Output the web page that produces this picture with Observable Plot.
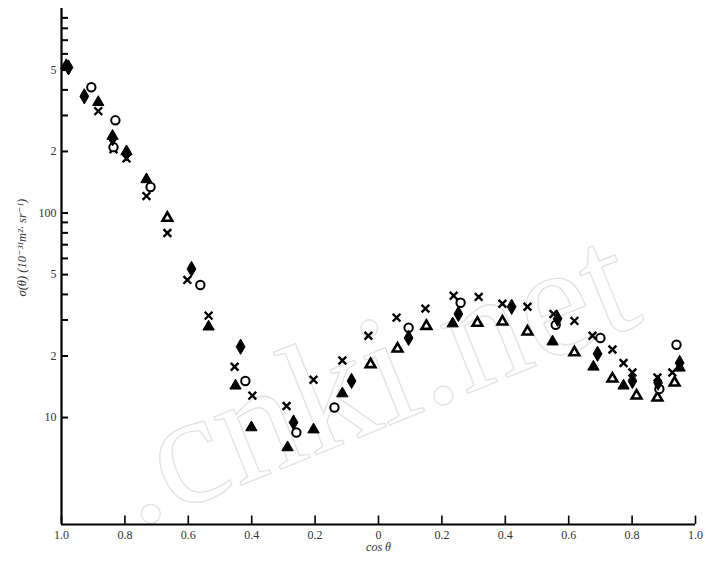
<!DOCTYPE html>
<html>
<head>
<meta charset="utf-8">
<script src="https://cdn.jsdelivr.net/npm/d3@7"></script>
<script src="https://cdn.jsdelivr.net/npm/@observablehq/plot@0.6"></script>
<style>
  html, body { margin: 0; padding: 0; background: white; }
</style>
</head>
<body>
<div id="chart"></div>
<script>
// Axis ticks
const xTicks = [-1, -0.8, -0.6, -0.4, -0.2, 0, 0.2, 0.4, 0.6, 0.8, 1];
const xTickLabels = ["1.0", "0.8", "0.6", "0.4", "0.2", "0", "0.2", "0.4", "0.6", "0.8", "1.0"];
const yMinorTicks = [10, 20, 30, 40, 50, 60, 70, 80, 90, 100, 200, 300, 400, 500, 600, 700, 800, 900];
const yLabelTicks = [10, 20, 50, 100, 200, 500];
const yTickLabels = ["10", "2", "5", "100", "2", "5"];

// Series: filled circles with error bars
const fCos = [-0.978, -0.928, -0.839, -0.795, -0.590, -0.435, -0.268, -0.085, 0.095, 0.252, 0.420, 0.565, 0.691, 0.801, 0.882, 0.950];
const fVal = [515, 372, 232, 196, 53.3, 22.2, 9.46, 15.1, 24.5, 32.1, 34.8, 30.4, 20.5, 15.1, 14.8, 18.5];
const fErr = [36, 26, 16, 14, 3.7, 1.6, 0.7, 1.1, 1.7, 2.3, 2.5, 2.1, 1.4, 1.1, 1.0, 1.3];
// open circles
const oCos = [-0.906, -0.830, -0.836, -0.719, -0.562, -0.420, -0.259, -0.139, 0.095, 0.259, 0.559, 0.700, 0.886, 0.940];
const oVal = [412, 284, 210, 134, 44.5, 15.1, 8.45, 11.2, 27.5, 36.4, 28.4, 24.5, 13.8, 22.7];
// filled triangles
const tCos = [-0.985, -0.884, -0.839, -0.795, -0.732, -0.536, -0.451, -0.401, -0.287, -0.205, -0.114, 0.234, 0.549, 0.678, 0.773, 0.950];
const tVal = [527, 348, 238, 200, 146, 27.8, 14.3, 8.94, 7.14, 8.73, 13.1, 28.8, 23.5, 17.7, 14.3, 17.5];
// open triangles
const uCos = [-0.666, -0.025, 0.060, 0.151, 0.312, 0.391, 0.470, 0.618, 0.738, 0.814, 0.880, 0.934];
const uVal = [94.6, 18.2, 21.7, 28.0, 29.0, 29.4, 26.3, 20.8, 15.5, 12.8, 12.5, 14.8];
// crosses
const xCos = [-0.884, -0.836, -0.795, -0.732, -0.666, -0.603, -0.536, -0.454, -0.398, -0.290, -0.205, -0.114, -0.032, 0.057, 0.148, 0.237, 0.316, 0.391, 0.470, 0.552, 0.618, 0.675, 0.738, 0.773, 0.801, 0.880, 0.927];
const xVal = [315, 205, 185, 121, 79.8, 47.1, 31.5, 17.7, 12.8, 11.4, 15.3, 19.0, 25.1, 30.8, 34.1, 39.4, 38.9, 36.0, 34.8, 32.1, 29.7, 25.1, 21.5, 18.5, 16.6, 15.7, 16.6];

const yTitle = "σ(θ) (10⁻³¹m²· sr⁻¹)";
const xTitle = "cos θ";
const watermark = ".cnki.net";

const fData = fCos.map((c, i) => ({c, v: fVal[i], e: fErr[i]}));
const oData = oCos.map((c, i) => ({c, v: oVal[i]}));
const tData = tCos.map((c, i) => ({c, v: tVal[i]}));
const uData = uCos.map((c, i) => ({c, v: uVal[i]}));
const xData = xCos.map((c, i) => ({c, v: xVal[i]}));

const font = "'Liberation Serif', 'DejaVu Serif', serif";

const chart = Plot.plot({
  width: 713,
  height: 566,
  marginLeft: 61,
  marginRight: 18,
  marginTop: 8,
  marginBottom: 42,
  x: {domain: [-1, 1], axis: null},
  y: {type: "log", domain: [3, 1000], axis: null},
  style: {fontFamily: font, background: "white"},
  marks: [
    // axes lines
    Plot.ruleX([-1], {stroke: "black", strokeWidth: 2.2}),
    Plot.ruleY([3], {x1: -1, x2: 1, stroke: "black", strokeWidth: 2}),
    // y ticks
    Plot.ruleY(yMinorTicks, {y: d => d, x1: -1, x2: -0.978, stroke: "black", strokeWidth: 2}),
    // x ticks (inward, upward)
    Plot.ruleX(xTicks, {x: d => d, y1: 3, y2: 3.3, stroke: "black", strokeWidth: 1.6}),
    // tick labels
    Plot.text(xTicks, {x: d => d, frameAnchor: "bottom", dy: 14, text: (d, i) => xTickLabels[i], fontSize: 12, fill: "#333", fontFamily: font}),
    Plot.text(yLabelTicks, {y: d => d, frameAnchor: "left", dx: -5, textAnchor: "end", text: (d, i) => yTickLabels[i], fontSize: 12, fill: "#333", fontFamily: font}),
    // titles
    Plot.text([yTitle], {frameAnchor: "left", dx: -40, dy: 30, rotate: -90, fontSize: 12.5, fill: "#333", fontFamily: font, fontStyle: "italic"}),
    Plot.text([xTitle], {frameAnchor: "bottom", dy: 26, fontSize: 12, fill: "#333", fontFamily: font, fontStyle: "italic"}),
    // data
    Plot.dot(xData, {x: "c", y: "v", symbol: "times", r: 3.6, stroke: "black", strokeWidth: 2.4}),
    Plot.dot(uData, {x: "c", y: "v", symbol: "triangle", r: 3.6, fill: "white", stroke: "black", strokeWidth: 2.6}),
    Plot.dot(tData, {x: "c", y: "v", symbol: "triangle", r: 4.2, fill: "black", stroke: "black", strokeWidth: 1}),
    Plot.dot(oData, {x: "c", y: "v", symbol: "circle", r: 4.2, fill: "white", stroke: "black", strokeWidth: 2}),
    Plot.ruleX(fData, {x: "c", y1: d => d.v - d.e, y2: d => d.v + d.e, stroke: "black", strokeWidth: 1.6}),
    Plot.dot(fData, {x: "c", y: "v", symbol: "diamond", r: 4.6, fill: "black", stroke: "black", strokeWidth: 1})
  ]
});

// faint outline watermark as in the reference scan
d3.select(chart).insert("text", ":first-child")
  .attr("x", 135).attr("y", 528)
  .attr("transform", "rotate(-22,135,528)")
  .attr("text-anchor", "start")
  .attr("font-family", "'Liberation Serif', serif")
  .attr("font-size", 160)
  .attr("fill", "none")
  .attr("stroke", "#e2e2e2")
  .attr("stroke-width", 1.3)
  .text(watermark);

document.getElementById("chart").appendChild(chart);
</script>
</body>
</html>
